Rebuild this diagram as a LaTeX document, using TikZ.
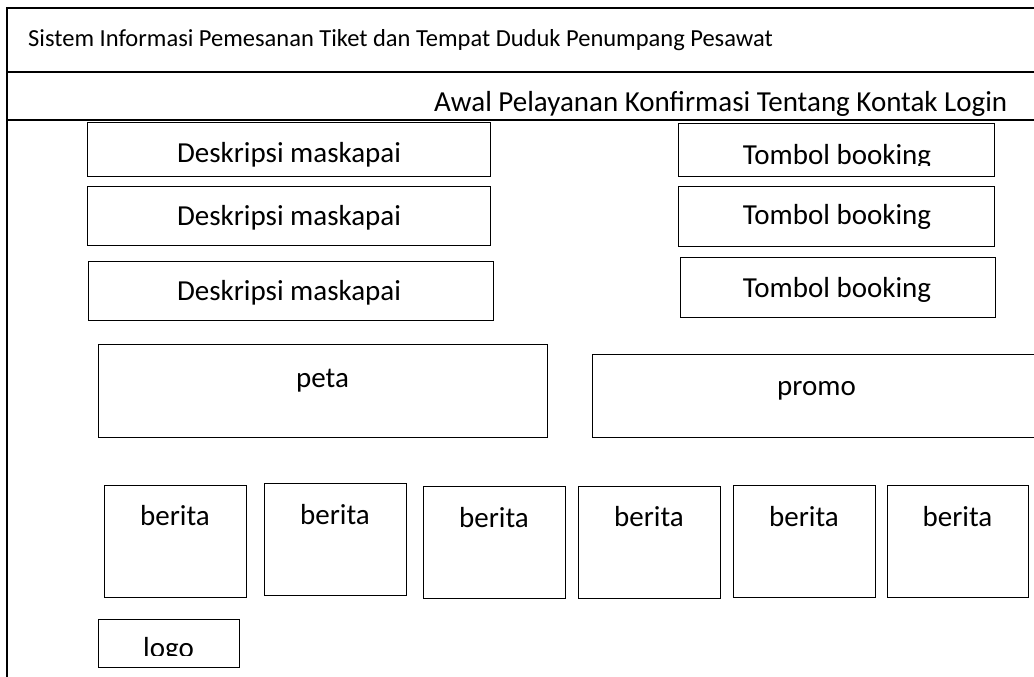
\documentclass[tikz,border=0pt]{standalone}
\usepackage{fontspec}
\setmainfont{Carlito}
\begin{document}
\begin{tikzpicture}[x=1pt,y=-1pt,
  frame/.style={line width=1.6pt},
  box/.style={draw, line width=1.4pt, anchor=north west, inner sep=0pt},
  lbl/.style={anchor=base, inner sep=0pt, font=\fontsize{29}{35}\selectfont},
  ttl/.style={anchor=base west, inner sep=0pt, font=\fontsize{24.5}{29}\selectfont}]
\useasboundingbox (0,0) rectangle (1034,677);
\clip (0,0) rectangle (1034,677);

% page frame
\coordinate (tl) at (7,8);
\coordinate (tr) at (1040,8);
\coordinate (bl) at (7,680);
\coordinate (h1l) at (7,72);
\coordinate (h1r) at (1040,72);
\coordinate (h2l) at (7,120);
\coordinate (h2r) at (1040,120);
\draw[frame] (bl) -- (tl) -- (tr);
\draw[frame] (h1l) -- (h1r);
\draw[frame] (h2l) -- (h2r);

% header texts
\node[ttl] (title) at (28,47) {Sistem Informasi Pemesanan Tiket dan Tempat Duduk Penumpang Pesawat};
\begin{scope}
  \clip (0,73) rectangle (1034,118);
  \node[lbl, anchor=base west] (nav) at (434,111) {Awal Pelayanan Konfirmasi Tentang Kontak Login};
\end{scope}

% airline descriptions
\node[box, minimum width=403pt, minimum height=54pt] (d1) at (87,122) {};
\node[box, minimum width=403pt, minimum height=59pt] (d2) at (87,186) {};
\node[box, minimum width=405pt, minimum height=59pt] (d3) at (88,261) {};
\node[lbl] (d1t) at (289,162) {Deskripsi maskapai};
\node[lbl] (d2t) at (289,225) {Deskripsi maskapai};
\node[lbl] (d3t) at (289,300) {Deskripsi maskapai};

% booking buttons
\node[box, minimum width=316pt, minimum height=53pt] (t1) at (678,123) {};
\node[box, minimum width=316pt, minimum height=60pt] (t2) at (678,186) {};
\node[box, minimum width=315pt, minimum height=60pt] (t3) at (680,257) {};
\begin{scope}
  \clip (678,123) rectangle (994,165);
  \node[lbl] (t1t) at (837,164) {Tombol booking};
\end{scope}
\node[lbl] (t2t) at (837,224) {Tombol booking};
\node[lbl] (t3t) at (837,297) {Tombol booking};

% map and promo
\node[box, minimum width=449pt, minimum height=93pt] (peta) at (98,344) {};
\node[lbl] (petat) at (322.5,387) {peta};
\node[box, minimum width=449pt, minimum height=83pt] (promo) at (592,354) {};
\node[lbl] (promot) at (816.5,395) {promo};

% news tiles
\node[box, minimum width=142pt, minimum height=112pt] (b1) at (104,485) {};
\node[box, minimum width=142pt, minimum height=112pt] (b2) at (264,483) {};
\node[box, minimum width=142pt, minimum height=112pt] (b3) at (423,486) {};
\node[box, minimum width=142pt, minimum height=112pt] (b4) at (578,486) {};
\node[box, minimum width=142pt, minimum height=112pt] (b5) at (733,485) {};
\node[box, minimum width=141pt, minimum height=112pt] (b6) at (887,485) {};
\node[lbl] (b1t) at (175,525) {berita};
\node[lbl] (b2t) at (335,524) {berita};
\node[lbl] (b3t) at (494,527) {berita};
\node[lbl] (b4t) at (649,526) {berita};
\node[lbl] (b5t) at (804,526) {berita};
\node[lbl] (b6t) at (957.5,526) {berita};

% logo
\node[box, minimum width=141pt, minimum height=48pt] (logo) at (98,619) {};
\begin{scope}
  \clip (98,619) rectangle (239,655);
  \node[lbl] (logot) at (168.5,657) {logo};
\end{scope}
\end{tikzpicture}
\end{document}
